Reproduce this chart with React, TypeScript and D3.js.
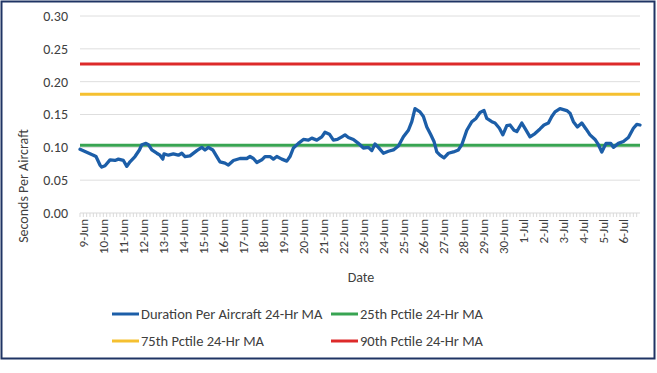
import React from 'react';
import * as d3 from 'd3';

// days since 9-Jun 00:00 and 24-hr moving average (seconds per aircraft)
const maDays = [
  -0.15, 0.52, 0.65, 0.85, 0.94, 1.1, 1.35, 1.6, 1.77, 2.02, 2.19, 2.35, 2.6, 2.82, 2.94, 3.15, 3.27, 3.44,
  3.69, 3.85, 3.99, 4.05, 4.27, 4.52, 4.77, 4.94, 5.1, 5.35, 5.69, 5.94, 6.1, 6.27, 6.49, 6.69, 6.85, 7.1,
  7.27, 7.52, 7.85, 8.19, 8.35, 8.52, 8.69, 8.94, 9.1, 9.35, 9.52, 9.69, 9.94, 10.19, 10.35, 10.52, 10.77,
  11.02, 11.27, 11.44, 11.69, 11.94, 12.1, 12.32, 12.52, 12.72, 12.94, 13.1, 13.27, 13.52, 13.77, 13.85,
  14.02, 14.27, 14.44, 14.6, 14.77, 15.02, 15.27, 15.52, 15.77, 16.02, 16.27, 16.44, 16.6, 16.85, 17.02,
  17.19, 17.39, 17.55, 17.69, 17.85, 18.05, 18.27, 18.52, 18.77, 18.94, 19.19, 19.44, 19.65, 19.85, 20.05,
  20.19, 20.44, 20.6, 20.82, 20.99, 21.19, 21.35, 21.55, 21.69, 21.94, 22.1, 22.35, 22.6, 22.85, 23.05,
  23.27, 23.44, 23.6, 23.85, 24.19, 24.35, 24.52, 24.72, 24.94, 25.15, 25.35, 25.6, 25.77, 25.94, 26.15,
  26.39, 26.52, 26.77, 27.02, 27.27, 27.52, 27.69, 27.85,
];
const maValues = [
  0.097, 0.088, 0.086, 0.073, 0.07, 0.072, 0.081, 0.08, 0.082, 0.08, 0.071, 0.078, 0.086, 0.096, 0.104, 0.106,
  0.104, 0.096, 0.091, 0.088, 0.082, 0.09, 0.088, 0.09, 0.088, 0.091, 0.086, 0.087, 0.095, 0.1, 0.096, 0.1,
  0.096, 0.086, 0.078, 0.076, 0.073, 0.08, 0.083, 0.083, 0.086, 0.083, 0.077, 0.081, 0.086, 0.086, 0.082,
  0.086, 0.082, 0.079, 0.086, 0.099, 0.106, 0.112, 0.111, 0.114, 0.111, 0.116, 0.123, 0.12, 0.111, 0.112,
  0.116, 0.119, 0.115, 0.112, 0.106, 0.104, 0.099, 0.1, 0.095, 0.105, 0.1, 0.091, 0.094, 0.096, 0.102,
  0.116, 0.126, 0.139, 0.159, 0.154, 0.147, 0.131, 0.119, 0.109, 0.093, 0.088, 0.084, 0.091, 0.093, 0.096,
  0.104, 0.126, 0.139, 0.144, 0.153, 0.156, 0.144, 0.139, 0.137, 0.129, 0.119, 0.133, 0.134, 0.126, 0.124,
  0.137, 0.129, 0.116, 0.121, 0.128, 0.134, 0.137, 0.147, 0.154, 0.159, 0.156, 0.152, 0.139, 0.131, 0.137,
  0.128, 0.119, 0.112, 0.104, 0.093, 0.106, 0.106, 0.1, 0.106, 0.109, 0.115, 0.129, 0.135, 0.134,
];

const pctile25 = 0.103;
const pctile75 = 0.181;
const pctile90 = 0.227;

const dateLabels = [
  '9-Jun', '10-Jun', '11-Jun', '12-Jun', '13-Jun', '14-Jun', '15-Jun', '16-Jun', '17-Jun', '18-Jun',
  '19-Jun', '20-Jun', '21-Jun', '22-Jun', '23-Jun', '24-Jun', '25-Jun', '26-Jun', '27-Jun', '28-Jun',
  '29-Jun', '30-Jun', '1-Jul', '2-Jul', '3-Jul', '4-Jul', '5-Jul', '6-Jul',
];
const yTicks = [0, 0.05, 0.1, 0.15, 0.2, 0.25, 0.3];

const legendItems = [
  { label: 'Duration Per Aircraft 24-Hr MA', color: '#1c5ea8' },
  { label: '25th Pctile 24-Hr MA', color: '#38a452' },
  { label: '75th Pctile 24-Hr MA', color: '#f5c030' },
  { label: '90th Pctile 24-Hr MA', color: '#dd2a2a' },
];

const FONT = 'Carlito, Lato, "Open Sans", sans-serif';
const TEXT = '#404040';

const App: React.FC = () => {
  const width = 657;
  const height = 373;
  const left = 80;
  const right = 640;
  const top = 16;
  const bottom = 213;

  const x = d3.scaleLinear().domain([-0.15, 27.85]).range([left, right]);
  const y = d3.scaleLinear().domain([0, 0.3]).range([bottom, top]);

  const points: [number, number][] = maDays.map((d, i) => [d, maValues[i]]);
  const line = d3.line<[number, number]>()
    .x(d => x(d[0]))
    .y(d => y(d[1]))
    .curve(d3.curveLinear);

  // small ticks every 4 hours along the date axis
  const minorTicks = d3.range(0, 28 * 6).map(i => -0.15 + i / 6);

  const refLines = [
    { v: pctile90, color: legendItems[3].color },
    { v: pctile75, color: legendItems[2].color },
    { v: pctile25, color: legendItems[1].color },
  ];

  return (
    <svg width={width} height={height} style={{ position: 'absolute', left: 0, top: 0, background: '#fff' }}
      fontFamily={FONT}>
      <rect x={1.5} y={1.5} width={653} height={357} fill="#fff" stroke="#1f3464" strokeWidth={2} />

      {yTicks.map(t => (
        <g key={t}>
          {t > 0 && <line x1={left} x2={right} y1={y(t)} y2={y(t)} stroke="#dedede" strokeWidth={1} />}
          <text x={68} y={y(t)} dy="0.35em" textAnchor="end" fontSize={14} fill={TEXT}>
            {d3.format('.2f')(t)}
          </text>
        </g>
      ))}

      <line x1={left} x2={right} y1={bottom} y2={bottom} stroke="#d9d9d9" strokeWidth={1} />
      {minorTicks.map((d, i) => (
        <line key={i} x1={x(d)} x2={x(d)} y1={bottom} y2={bottom + 4} stroke="#d9d9d9" strokeWidth={1} />
      ))}

      {dateLabels.map((lab, i) => (
        <text key={lab} transform={`translate(${x(i)},${bottom + 6}) rotate(-90)`} dy="0.35em"
          textAnchor="end" fontSize={13} fill={TEXT}>
          {lab}
        </text>
      ))}

      {refLines.map(r => (
        <line key={r.v} x1={left} x2={right} y1={y(r.v)} y2={y(r.v)} stroke={r.color} strokeWidth={3} />
      ))}

      <path d={line(points) ?? ''} fill="none" stroke={legendItems[0].color} strokeWidth={3.3}
        strokeLinejoin="round" strokeLinecap="round" />

      <text transform={`translate(23,186) rotate(-90)`} dy="0.35em" textAnchor="middle" fontSize={14}
        fill={TEXT}>
        Seconds Per Aircraft
      </text>
      <text x={361} y={277} dy="0.35em" textAnchor="middle" fontSize={14} fill={TEXT}>
        Date
      </text>

      {legendItems.map((item, i) => {
        const lx = i % 2 === 0 ? 112 : 331;
        const ly = i < 2 ? 314 : 341;
        return (
          <g key={item.label}>
            <line x1={lx} x2={lx + 27} y1={ly} y2={ly} stroke={item.color} strokeWidth={3} />
            <text x={lx + 29} y={ly} dy="0.35em" fontSize={14.5} fill={TEXT}>
              {item.label}
            </text>
          </g>
        );
      })}
    </svg>
  );
};

export default App;
